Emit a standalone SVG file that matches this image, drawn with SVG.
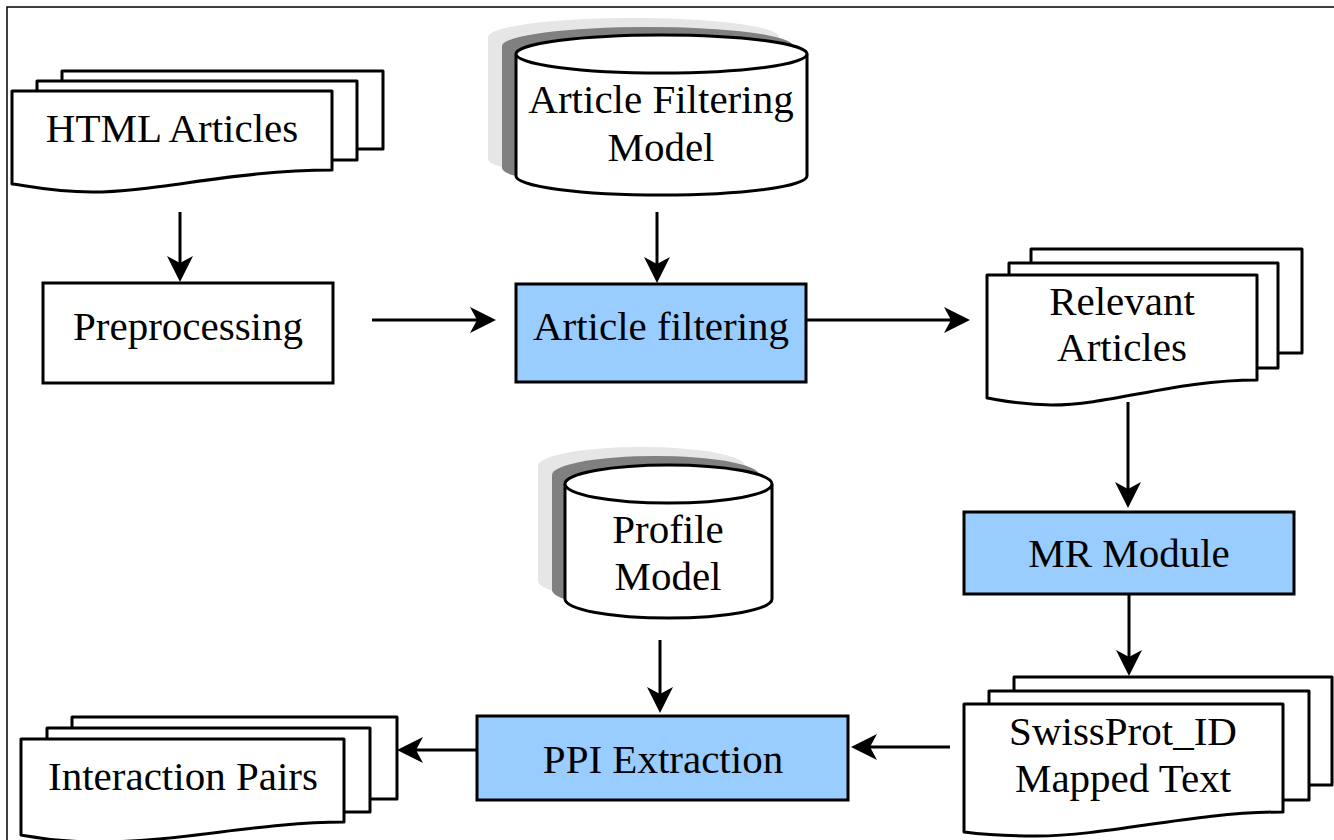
<svg xmlns="http://www.w3.org/2000/svg" width="1334" height="840" viewBox="0 0 1334 840">
<defs>
<style>
.doc{fill:#fff;stroke:#000;stroke-width:3;stroke-linejoin:round}
.box{fill:#fff;stroke:#000;stroke-width:3}
.proc{fill:#99ccff;stroke:#000;stroke-width:3}
.cyl{fill:#fff;stroke:#000;stroke-width:3}
.sh1{fill:#808080}
.sh2{fill:#e6e6e6}
.lbl{font-family:"Liberation Serif","Times New Roman",serif;font-size:41px;fill:#000;text-anchor:middle}
.conn{stroke:#000;stroke-width:3;fill:none;marker-end:url(#arr)}
</style>
<marker id="arr" viewBox="0 0 26 26" refX="16" refY="13" markerWidth="26" markerHeight="26" markerUnits="userSpaceOnUse" orient="auto">
<path d="M0,0 L26,13 L0,26 L7,13 Z" fill="#000"/>
</marker>
</defs>
<rect width="1334" height="840" fill="#fff"/>
<path d="M7,840 V7 H1334" fill="none" stroke="#000" stroke-width="1.5"/>

<g id="html-articles">
<rect class="doc" x="62" y="71" width="321" height="78"/>
<rect class="doc" x="37" y="81" width="320" height="79"/>
<path class="doc" d="M12,91 H332 V170 C236,170 156,192 92,192 C50,192 30,186 12,184 Z"/>
<text class="lbl" x="172" y="142">HTML Articles</text>
</g>

<g id="article-filtering-model">
<path class="sh2" transform="translate(-28,-17)" d="M516,54 V176 A145.5,19 0 0 0 807,176 V54 A145.5,19 0 0 0 516,54 Z"/>
<path class="sh1" transform="translate(-14,-8)" d="M516,54 V176 A145.5,19 0 0 0 807,176 V54 A145.5,19 0 0 0 516,54 Z"/>
<path class="cyl" d="M516,54 V176 A145.5,19 0 0 0 807,176 V54 A145.5,19 0 0 0 516,54 Z"/>
<path class="cyl" fill="none" d="M516,54 A145.5,19 0 0 0 807,54"/>
<text class="lbl" x="661" y="113">Article Filtering</text>
<text class="lbl" x="661" y="161">Model</text>
</g>

<g id="preprocessing">
<rect class="box" x="43" y="283" width="290" height="100"/>
<text class="lbl" x="188" y="340">Preprocessing</text>
</g>

<g id="article-filtering">
<rect class="proc" x="516" y="284" width="290" height="98"/>
<text class="lbl" x="661" y="340">Article filtering</text>
</g>

<g id="relevant-articles">
<rect class="doc" x="1031" y="249" width="271" height="104"/>
<rect class="doc" x="1009" y="263" width="269" height="105"/>
<path class="doc" d="M987,275 H1257 V380 C1176,380 1110,405 1052,405 C1020,405 1000,400 987,398 Z"/>
<text class="lbl" x="1122" y="315">Relevant</text>
<text class="lbl" x="1122" y="361">Articles</text>
</g>

<g id="mr-module">
<rect class="proc" x="964" y="512" width="330" height="82"/>
<text class="lbl" x="1129" y="567">MR Module</text>
</g>

<g id="profile-model">
<path class="sh2" transform="translate(-27,-18)" d="M565,484 V599 A103.5,19 0 0 0 772,599 V484 A103.5,19 0 0 0 565,484 Z"/>
<path class="sh1" transform="translate(-13,-9)" d="M565,484 V599 A103.5,19 0 0 0 772,599 V484 A103.5,19 0 0 0 565,484 Z"/>
<path class="cyl" d="M565,484 V599 A103.5,19 0 0 0 772,599 V484 A103.5,19 0 0 0 565,484 Z"/>
<path class="cyl" fill="none" d="M565,484 A103.5,19 0 0 0 772,484"/>
<text class="lbl" x="668" y="543">Profile</text>
<text class="lbl" x="668" y="590">Model</text>
</g>

<g id="swissprot">
<rect class="doc" x="1014" y="677" width="318" height="108"/>
<rect class="doc" x="989" y="691" width="320" height="109"/>
<path class="doc" d="M964,704 H1283 V812 C1190,812 1110,836 1036,836 C1000,836 980,834 964,832 Z"/>
<text class="lbl" x="1123" y="745">SwissProt_ID</text>
<text class="lbl" x="1123" y="792">Mapped Text</text>
</g>

<g id="ppi-extraction">
<rect class="proc" x="477" y="716" width="371" height="84"/>
<text class="lbl" x="663" y="773">PPI Extraction</text>
</g>

<g id="interaction-pairs">
<rect class="doc" x="72" y="717" width="325" height="82"/>
<rect class="doc" x="47" y="728" width="323" height="84"/>
<path class="doc" d="M21,739 H344 V822 C260,822 180,842 100,842 C60,842 40,838 21,835 Z"/>
<text class="lbl" x="183" y="790">Interaction Pairs</text>
</g>

<g id="connectors">
<path class="conn" d="M180,212 V272"/>
<path class="conn" d="M657,212 V273"/>
<path class="conn" d="M372,320 H486"/>
<path class="conn" d="M806,320 H960"/>
<path class="conn" d="M1128,402 V498"/>
<path class="conn" d="M1129,594 V666"/>
<path class="conn" d="M660,640 V703"/>
<path class="conn" d="M950,747 H861"/>
<path class="conn" d="M477,750 H407"/>
</g>
</svg>
